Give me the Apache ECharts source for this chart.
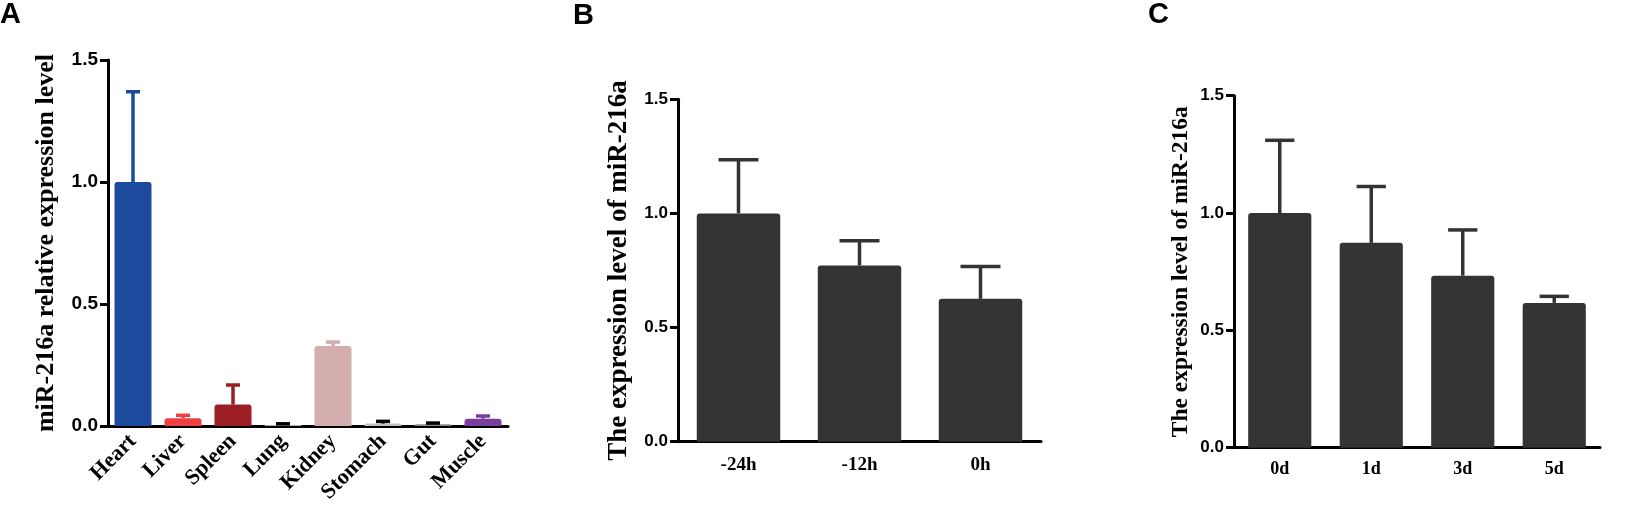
<!DOCTYPE html>
<html>
<head>
<meta charset="utf-8">
<script src="https://cdn.jsdelivr.net/npm/echarts@6/dist/echarts.min.js"></script>
<style>
  html, body { margin: 0; padding: 0; background: #fff; }
  #main { width: 1627px; height: 517px; }
</style>
</head>
<body>
<div id="main"></div>
<script>
// panel A: tissues
var tissues = ['Heart', 'Liver', 'Spleen', 'Lung', 'Kidney', 'Stomach', 'Gut', 'Muscle'];
var tissueMean = [1.0, 0.032, 0.088, 0.004, 0.328, 0.010, 0.007, 0.030];
var tissueErr = [0.37, 0.012, 0.080, 0.005, 0.016, 0.009, 0.005, 0.011];

// panel B: hours
var hours = ['-24h', '-12h', '0h'];
var hourMean = [1.0, 0.772, 0.626];
var hourErr = [0.235, 0.108, 0.142];

// panel C: days
var days = ['0d', '1d', '3d', '5d'];
var dayMean = [1.0, 0.873, 0.733, 0.617];
var dayErr = [0.31, 0.24, 0.195, 0.028];

var yTicks = [0, 0.5, 1.0, 1.5];

var tissueColors = ['#1c4a9c', '#ee4040', '#9a1e24', '#b4b4b4', '#d4aeae', '#c0c0c0', '#8a8a8a', '#7a3f9e'];
var tissueErrColors = ['#1c4a9c', '#ee4040', '#9a1e24', '#000', '#d4aeae', '#000', '#000', '#7a3f9e'];

var chart = echarts.init(document.getElementById('main'), null, { renderer: 'canvas' });

var serif = '"Liberation Serif", "Times New Roman", serif';
var sans = '"Liberation Sans", Arial, sans-serif';

function errorRender(capFrac, colors) {
  return function (params, api) {
    var i = api.value(0);
    var v = api.value(1);
    var e = api.value(2);
    var base = api.coord([i, v]);
    var top = api.coord([i, v + e]);
    var half = api.size([1, 0])[0] * capFrac / 2;
    var c = colors ? colors[params.dataIndex] : '#333';
    return {
      type: 'group',
      children: [
        { type: 'line', shape: { x1: base[0], y1: base[1], x2: top[0], y2: top[1] }, style: { stroke: c, lineWidth: 3.5 } },
        { type: 'line', shape: { x1: top[0] - half, y1: top[1], x2: top[0] + half, y2: top[1] }, style: { stroke: c, lineWidth: 3.5 } }
      ]
    };
  };
}

function yAxisFor(idx, name, labelSize, nameSize, gap) {
  return {
    gridIndex: idx, type: 'value', min: yTicks[0], max: yTicks[yTicks.length - 1], interval: 0.5,
    name: name, nameLocation: 'middle', nameGap: gap, nameRotate: 90,
    nameTextStyle: { fontFamily: serif, fontWeight: 'bold', fontSize: nameSize, color: '#000' },
    axisLine: { show: true, lineStyle: { color: '#000', width: 3 } },
    axisTick: { show: true, length: 8, lineStyle: { color: '#000', width: 3 } },
    axisLabel: { fontFamily: sans, fontWeight: 'bold', fontSize: labelSize, color: '#000', margin: 10,
      formatter: function (v) { return v.toFixed(1); } },
    splitLine: { show: false }
  };
}

function xAxisFor(idx, cats, size, rotate, margin) {
  return {
    gridIndex: idx, type: 'category', data: cats,
    axisLine: { lineStyle: { color: '#000', width: 3 } },
    axisTick: { alignWithLabel: true, length: 8, lineStyle: { color: '#000', width: 3 } },
    axisLabel: { fontFamily: serif, fontWeight: 'bold', fontSize: size, color: '#000', rotate: rotate, margin: margin, interval: 0 }
  };
}

function pack(means, errs) {
  return means.map(function (m, i) { return [i, m, errs[i]]; });
}

var option = {
  animation: false,
  backgroundColor: '#fff',
  grid: [
    { left: 108, top: 60, width: 400, height: 366 },
    { left: 678, top: 99.3, width: 363, height: 342.4 },
    { left: 1234, top: 95.7, width: 366, height: 352 }
  ],
  xAxis: [
    xAxisFor(0, tissues, 22, 45, 12),
    xAxisFor(1, hours, 19, 0, 14),
    xAxisFor(2, days, 18, 0, 13)
  ],
  yAxis: [
    yAxisFor(0, 'miR-216a relative expression level', 19, 26, 49),
    yAxisFor(1, 'The expression level of miR-216a', 17, 27, 45),
    yAxisFor(2, 'The expression level of miR-216a', 17, 23.5, 41)
  ],
  graphic: [
    { type: 'text', left: 0, top: 0, style: { text: 'A', font: 'bold 29px ' + sans, fill: '#000' } },
    { type: 'text', left: 573, top: 1, style: { text: 'B', font: 'bold 29px ' + sans, fill: '#000' } },
    { type: 'text', left: 1148, top: 0, style: { text: 'C', font: 'bold 29px ' + sans, fill: '#000' } }
  ],
  series: [
    {
      type: 'bar', xAxisIndex: 0, yAxisIndex: 0, barWidth: '74%',
      data: tissueMean.map(function (v, i) { return { value: v, itemStyle: { color: tissueColors[i] } }; }),
      itemStyle: { borderRadius: [3, 3, 0, 0] }
    },
    {
      type: 'custom', xAxisIndex: 0, yAxisIndex: 0, encode: { x: 0, y: 1 }, z: 3,
      renderItem: errorRender(0.28, tissueErrColors), data: pack(tissueMean, tissueErr)
    },
    {
      type: 'bar', xAxisIndex: 1, yAxisIndex: 1, barWidth: '69%', data: hourMean,
      itemStyle: { color: '#333333', borderRadius: [3, 3, 0, 0] }
    },
    {
      type: 'custom', xAxisIndex: 1, yAxisIndex: 1, encode: { x: 0, y: 1 }, z: 3,
      renderItem: errorRender(0.33, null), data: pack(hourMean, hourErr)
    },
    {
      type: 'bar', xAxisIndex: 2, yAxisIndex: 2, barWidth: '69%', data: dayMean,
      itemStyle: { color: '#333333', borderRadius: [3, 3, 0, 0] }
    },
    {
      type: 'custom', xAxisIndex: 2, yAxisIndex: 2, encode: { x: 0, y: 1 }, z: 3,
      renderItem: errorRender(0.32, null), data: pack(dayMean, dayErr)
    }
  ]
};

chart.setOption(option);
</script>
</body>
</html>
